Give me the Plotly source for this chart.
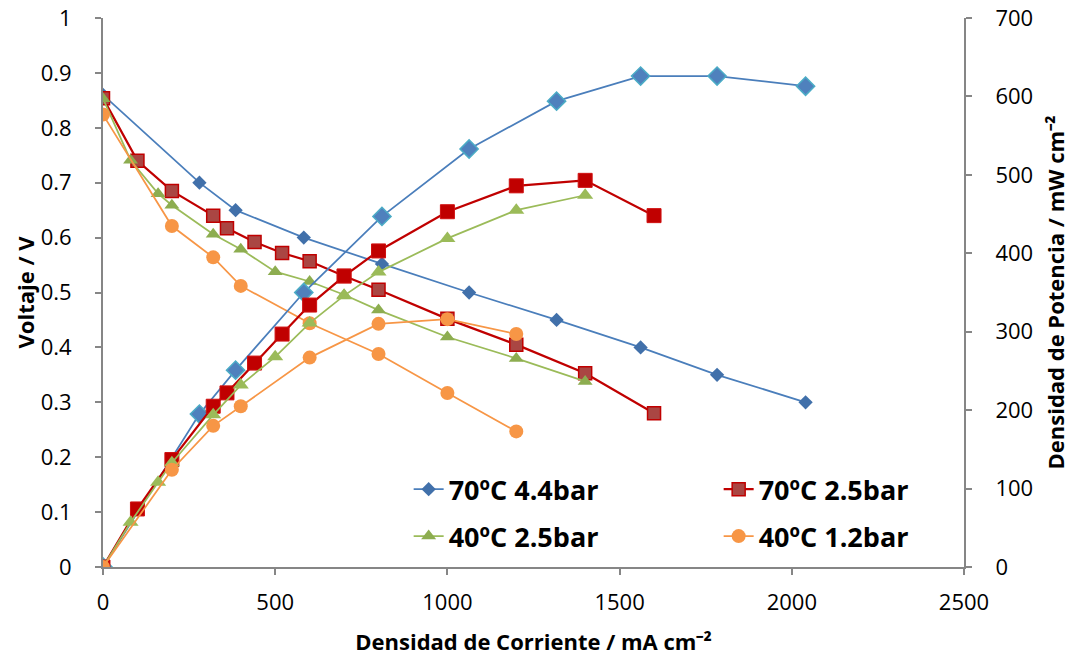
import plotly.graph_objects as go

# ---------------- data ----------------
# 70ºC 4.4bar
i_a = [0, 280, 385, 583, 810, 1063, 1317, 1561, 1783, 2040]
v_a = [0.860, 0.700, 0.650, 0.600, 0.552, 0.500, 0.450, 0.400, 0.350, 0.300]
p_a = [0, 195, 251, 350, 447, 533, 594, 626, 626, 613]

# 70ºC 2.5bar
i_b = [0, 100, 200, 320, 360, 440, 520, 600, 700, 800, 1000, 1200, 1400, 1600]
v_b = [0.854, 0.740, 0.685, 0.640, 0.617, 0.592, 0.572, 0.557, 0.530, 0.505, 0.452, 0.405, 0.353, 0.280]
p_b = [0, 74, 137, 205, 222, 260, 297, 334, 371, 403, 453, 486, 493, 448]

# 40ºC 2.5bar
i_c = [0, 80, 160, 200, 320, 400, 500, 600, 700, 800, 1000, 1200, 1400]
v_c = [0.853, 0.741, 0.680, 0.659, 0.606, 0.579, 0.538, 0.520, 0.496, 0.468, 0.419, 0.380, 0.338]
p_c = [0, 57, 108, 133, 194, 232, 268, 311, 346, 376, 419, 455, 474]

# 40ºC 1.2bar
i_d = [0, 200, 320, 400, 600, 800, 1000, 1200]
v_d = [0.824, 0.621, 0.564, 0.512, 0.444, 0.388, 0.317, 0.247]
p_d = [0, 124, 180, 205, 267, 310, 316, 297]

names = ["70ºC 4.4bar", "70ºC 2.5bar", "40ºC 2.5bar", "40ºC 1.2bar"]

FONT = "Open Sans"
AXC = "#868686"

fig = go.Figure()

# voltage traces (legend)
fig.add_trace(go.Scatter(x=i_a, y=v_a, name="<b>" + names[0] + "</b>", mode="lines+markers",
    legend="legend",
    line=dict(color="#4A7EBB", width=1.75),
    marker=dict(symbol="diamond", size=11, color="#4170AA", line=dict(width=0))))
fig.add_trace(go.Scatter(x=i_b, y=v_b, name="<b>" + names[1] + "</b>", mode="lines+markers",
    legend="legend",
    line=dict(color="#C00000", width=2.25),
    marker=dict(symbol="square", size=13, color="#AA4643", line=dict(color="#C00000", width=1.5))))
fig.add_trace(go.Scatter(x=i_c, y=v_c, name="<b>" + names[2] + "</b>", mode="lines+markers",
    legend="legend2",
    line=dict(color="#9BBB59", width=1.75),
    marker=dict(symbol="triangle-up", size=13, color="#8DAD50", line=dict(width=0))))
fig.add_trace(go.Scatter(x=i_d, y=v_d, name="<b>" + names[3] + "</b>", mode="lines+markers",
    legend="legend2",
    line=dict(color="#F79646", width=1.75),
    marker=dict(symbol="circle", size=14, color="#F79646", line=dict(width=0))))

# power traces (secondary axis)
fig.add_trace(go.Scatter(x=i_a, y=p_a, name=names[0], mode="lines+markers", yaxis="y2",
    showlegend=False, line=dict(color="#4A7EBB", width=1.75),
    marker=dict(symbol="diamond", size=14, color="#4F81BD", line=dict(color="#4BACC6", width=1.5))))
fig.add_trace(go.Scatter(x=i_b, y=p_b, name=names[1], mode="lines+markers", yaxis="y2",
    showlegend=False, line=dict(color="#C00000", width=2.25),
    marker=dict(symbol="square", size=14, color="#C00000", line=dict(color="#D01010", width=1))))
fig.add_trace(go.Scatter(x=i_c, y=p_c, name=names[2], mode="lines+markers", yaxis="y2",
    showlegend=False, line=dict(color="#9BBB59", width=1.75),
    marker=dict(symbol="triangle-up", size=14, color="#9BBB59", line=dict(width=0))))
fig.add_trace(go.Scatter(x=i_d, y=p_d, name=names[3], mode="lines+markers", yaxis="y2",
    showlegend=False, line=dict(color="#F79646", width=1.75),
    marker=dict(symbol="circle", size=14, color="#F79646", line=dict(width=0))))

tickfont = dict(family=FONT, size=22, color="#000000")
titlefont = dict(family=FONT, size=22, color="#000000")
legfont = dict(family=FONT, size=27, color="#000000")

leg_common = dict(orientation="h", xanchor="left", yanchor="middle",
                  entrywidth=265, entrywidthmode="pixels", font=legfont,
                  bgcolor="rgba(255,255,255,0)", itemsizing="trace")

fig.update_layout(
    width=1072, height=664,
    margin=dict(l=103, r=108, t=18, b=97, autoexpand=False),
    paper_bgcolor="white", plot_bgcolor="white",
    font=dict(family=FONT, color="#000000"),
    xaxis=dict(range=[0, 2500], tickvals=[0, 500, 1000, 1500, 2000, 2500], automargin=False,
               showgrid=False, zeroline=False, showline=True, linecolor=AXC, linewidth=2,
               ticks="outside", tickcolor=AXC, ticklen=6, tickwidth=2, tickfont=tickfont,
               ticklabelstandoff=9,
               title=dict(text="<b>Densidad de Corriente / mA cm⁻²</b>", font=titlefont, standoff=19)),
    yaxis=dict(range=[0, 1], dtick=0.1, tickformat="~g", automargin=False,
               showgrid=False, zeroline=False, showline=True, linecolor=AXC, linewidth=2,
               ticks="outside", tickcolor=AXC, ticklen=6, tickwidth=2, tickfont=tickfont,
               ticklabelstandoff=19,
               title=dict(text="<b>Voltaje / V</b>", font=titlefont, standoff=0)),
    yaxis2=dict(range=[0, 700], dtick=100, overlaying="y", side="right", automargin=False,
                showgrid=False, zeroline=False, showline=True, linecolor=AXC, linewidth=2,
                ticks="outside", tickcolor=AXC, ticklen=6, tickwidth=2, tickfont=tickfont,
                ticklabelstandoff=19,
                title=dict(text="<b>Densidad de Potencia / mW cm⁻²</b>", font=titlefont, standoff=16)),
    legend=dict(x=0.355, y=0.141, **leg_common),
    legend2=dict(x=0.355, y=0.0555, **leg_common),
    showlegend=True,
)

fig.write_html("out.html")
